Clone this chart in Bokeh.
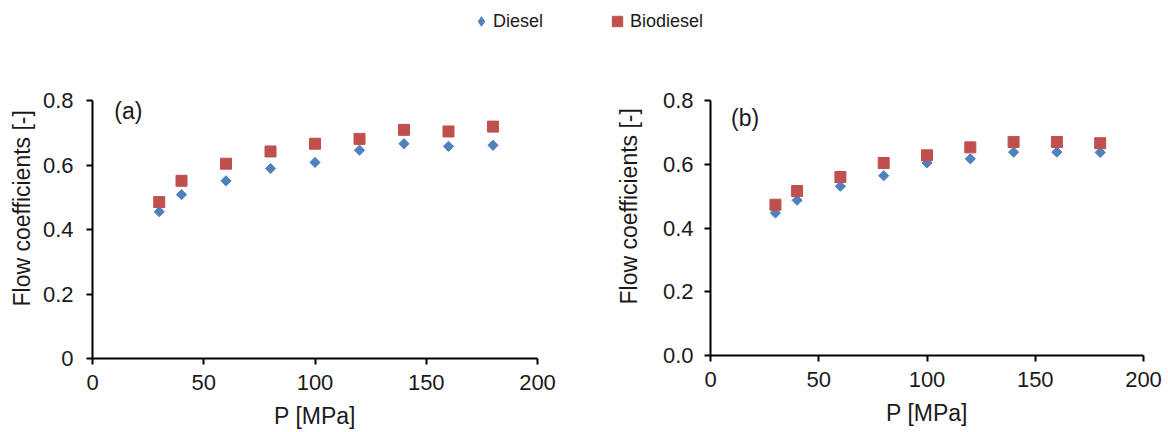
import math
from bokeh.plotting import figure
from bokeh.layouts import column, row
from bokeh.models import (Range1d, FixedTicker, Label, Legend, LegendItem, Title)
from bokeh.embed import file_html
from bokeh.resources import INLINE

# ---------------- data ----------------
pressure = [30, 40, 60, 80, 100, 120, 140, 160, 180]
diesel_a = [0.455, 0.508, 0.551, 0.589, 0.608, 0.646, 0.666, 0.658, 0.661]
biodiesel_a = [0.485, 0.551, 0.604, 0.642, 0.666, 0.681, 0.709, 0.704, 0.719]
diesel_b = [0.447, 0.487, 0.531, 0.564, 0.604, 0.617, 0.638, 0.638, 0.637]
biodiesel_b = [0.473, 0.516, 0.560, 0.604, 0.628, 0.653, 0.670, 0.670, 0.666]

x_ticks = [0, 50, 100, 150, 200]
y_ticks = [0, 0.2, 0.4, 0.6, 0.8]
y_labels_a = ["0", "0.2", "0.4", "0.6", "0.8"]
y_labels_b = ["0.0", "0.2", "0.4", "0.6", "0.8"]
panel_names = ["(a)", "(b)"]
series_names = ["Diesel", "Biodiesel"]
x_title = "P [MPa]"
y_title = "Flow coefficients [-]"

BLUE = "#4F81BD"
RED = "#C0504D"
FONT = "Liberation Sans"
TXT = "#1a1a1a"


def style_axes(p, y_labels, ylab_standoff):
    p.xaxis.ticker = FixedTicker(ticks=x_ticks)
    p.yaxis.ticker = FixedTicker(ticks=y_ticks)
    p.yaxis.major_label_overrides = {t: l for t, l in zip(y_ticks, y_labels)}
    for ax in (p.xaxis[0], p.yaxis[0]):
        ax.axis_line_color = "#000000"
        ax.axis_line_width = 2
        ax.major_tick_line_color = "#000000"
        ax.major_tick_line_width = 2
        ax.major_tick_out = 6
        ax.major_tick_in = 0
        ax.minor_tick_line_color = None
        ax.major_label_text_font = FONT
        ax.major_label_text_font_size = "22px"
        ax.major_label_text_color = TXT
        ax.axis_label_text_font = FONT
        ax.axis_label_text_font_size = "23px"
        ax.axis_label_text_font_style = "normal"
        ax.axis_label_text_color = TXT
    p.xaxis.axis_label = x_title
    p.xaxis.major_label_standoff = 10
    p.yaxis.major_label_standoff = ylab_standoff
    p.xaxis.axis_label_standoff = 10
    p.xgrid.grid_line_color = None
    p.ygrid.grid_line_color = None
    p.outline_line_color = None


def make_panel(diesel, bio, y_labels, name, fw, fh, bl, br, bt, bb,
               lx, ly, ylab_standoff, t_standoff, t_offset):
    p = figure(frame_width=fw, frame_height=fh, output_backend="svg",
               toolbar_location=None, x_range=Range1d(0, 200), y_range=Range1d(0, 0.8),
               min_border_left=bl, min_border_right=br, min_border_top=bt,
               min_border_bottom=bb)
    p.scatter(pressure, diesel, marker="square", angle=math.pi / 4, size=7.2,
              fill_color=BLUE, line_color=BLUE)
    p.scatter(pressure, bio, marker="square", size=11,
              fill_color=RED, line_color=RED)
    style_axes(p, y_labels, ylab_standoff)
    p.add_layout(Label(x=lx, y=ly, text=name, text_baseline="top",
                       text_font=FONT, text_font_size="23px", text_color=TXT))
    # y-axis title, starting a little above the frame bottom like in the original
    p.add_layout(Title(text=y_title, align="left", offset=t_offset,
                       standoff=t_standoff, text_font=FONT, text_font_size="23px",
                       text_font_style="normal", text_color=TXT), "left")
    return p


pa = make_panel(diesel_a, biodiesel_a, y_labels_a, panel_names[0],
                445, 258, 92, 58, 58, 76, 9.8, 0.807, 13, 10, 52)
pb = make_panel(diesel_b, biodiesel_b, y_labels_b, panel_names[1],
                433, 255, 114, 22, 60, 77, 9.5, 0.785, 11, 36, 51)

# ---------------- legend strip ----------------
leg = figure(width=1165, height=40, output_backend="svg", toolbar_location=None,
             x_range=Range1d(0, 1), y_range=Range1d(0, 1), min_border=0)
leg.axis.visible = False
leg.xgrid.grid_line_color = None
leg.ygrid.grid_line_color = None
leg.outline_line_color = None
# legend-only renderers: they reuse the series data but lie outside this strip's ranges
r_d = leg.scatter(x=pressure, y=diesel_a, marker="diamond",
                  fill_color=BLUE, line_color=BLUE)
r_b = leg.scatter(x=pressure, y=biodiesel_a, marker="square",
                  fill_color=RED, line_color=RED)

for rend, name, loc, gw in [(r_d, series_names[0], (469, 7), 24),
                            (r_b, series_names[1], (604, 6), 26)]:
    lg = Legend(items=[LegendItem(label=name, renderers=[rend])], location=loc,
                glyph_width=gw, glyph_height=gw, padding=0, margin=0,
                label_standoff=0, border_line_color=None,
                background_fill_alpha=0, label_text_font=FONT,
                label_text_font_size="18px", label_text_color=TXT)
    leg.add_layout(lg, "center")

layout = column(leg, row(pa, pb, spacing=0), spacing=0)

open("out.html", "w").write(file_html(layout, INLINE))
